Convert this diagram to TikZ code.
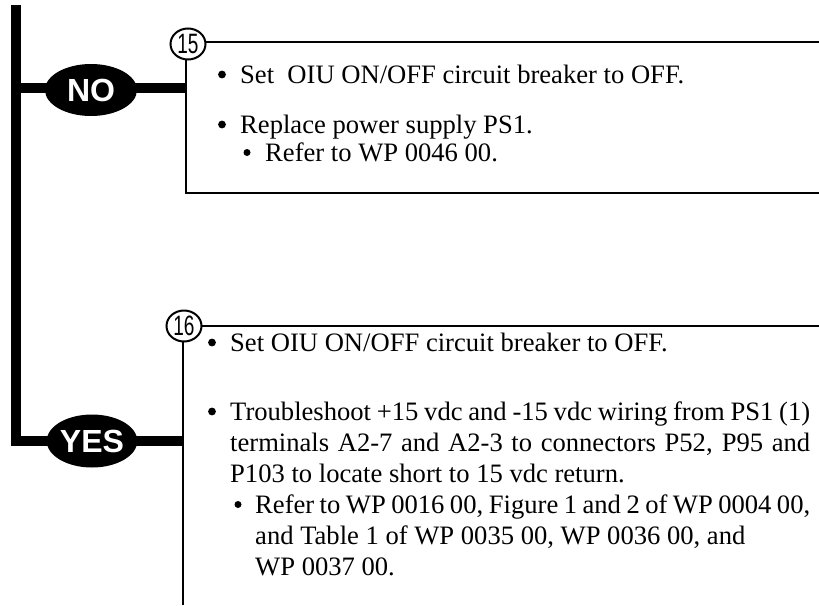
\documentclass[tikz,border=0pt]{standalone}
\usepackage{fontspec}
\setmainfont{Liberation Serif}
\newfontfamily\labelfont{Liberation Sans}
\usetikzlibrary{shapes.geometric}
\begin{document}
\begin{tikzpicture}[x=1pt,y=-1pt,
  body/.style={anchor=base west, inner sep=0pt, font=\fontsize{26.6}{31}\selectfont},
  dot/.style={circle, fill=black, inner sep=0pt, minimum size=7.8pt},
  subdot/.style={circle, fill=black, inner sep=0pt, minimum size=7pt},
  decision/.style={ellipse, fill=black, text=white, inner sep=0pt,
    font=\labelfont\bfseries\fontsize{32}{32}\selectfont},
  stepnum/.style={ellipse, draw=black, line width=2pt, fill=white, inner sep=0pt,
    minimum width=35pt, minimum height=31pt,
    font=\labelfont\fontsize{28}{28}\selectfont},
  busline/.style={line width=10.5pt, line join=miter},
  boxline/.style={line width=2.2pt}]
\useasboundingbox (0,0) rectangle (819,605);

% coordinates
\coordinate (bustop) at (16,5);
\coordinate (nobus) at (16,88);
\coordinate (yesbus) at (16,441);
\coordinate (b15tl) at (186,42);
\coordinate (b15tr) at (819,42);
\coordinate (b15ml) at (186,88);
\coordinate (b15bl) at (186,193);
\coordinate (b15br) at (819,193);
\coordinate (b16tl) at (183,326);
\coordinate (b16tr) at (819,326);
\coordinate (b16ml) at (183,441);
\coordinate (b16bl) at (183,605);

% bus and branches
\draw[busline] (bustop) -- (yesbus) -- (b16ml);
\draw[busline] (nobus) -- (b15ml);

% boxes
\draw[boxline] (b15tl) -- (b15tr);
\draw[boxline] (b15tl) -- (b15bl) -- (b15br);
\draw[boxline] (b16tl) -- (b16tr);
\draw[boxline] (b16tl) -- (b16bl);

% decisions
\node[decision, minimum width=92pt, minimum height=52pt] (no) at (91,90) {NO};
\node[decision, minimum width=90pt, minimum height=53pt] (yes) at (92,441) {YES};

% step numbers
\node[stepnum] (n15) at (188,44) {\scalebox{0.68}[1]{15}};
\node[stepnum] (n16) at (184,326) {\scalebox{0.68}[1]{16}};

% box 15 text
\node[dot] (d15a) at (222,74.5) {};
\node[body] (t15a) at (240,83) {Set\ \ OIU ON/OFF circuit breaker to OFF.};
\node[dot] (d15b) at (222,124.5) {};
\node[body] (t15b) at (240,133) {Replace power supply PS1.};
\node[subdot] (d15c) at (247,152.5) {};
\node[body] (t15c) at (265,161) {Refer to WP 0046 00.};

% box 16 text
\node[dot] (d16a) at (212,342.5) {};
\node[body] (t16a) at (230,351) {Set OIU ON/OFF circuit breaker to OFF.};
\node[dot] (d16b) at (212,411.5) {};
\node[body] (t16b1) at (230,420) {\makebox[580pt][s]{Troubleshoot +15 vdc and -15 vdc wiring from PS1 (1)}};
\node[body] (t16b2) at (230,451) {\makebox[580pt][s]{terminals A2-7 and A2-3 to connectors P52, P95 and}};
\node[body] (t16b3) at (230,482) {P103 to locate short to 15 vdc return.};
\node[subdot] (d16c) at (238,504.5) {};
\node[body] (t16c1) at (255,513) {\makebox[555pt][s]{Refer to WP 0016 00, Figure 1 and 2 of WP 0004 00,}};
\node[body] (t16c2) at (255,544) {and Table 1 of WP 0035 00, WP 0036 00, and};
\node[body] (t16c3) at (255,575) {WP 0037 00.};
\end{tikzpicture}
\end{document}
